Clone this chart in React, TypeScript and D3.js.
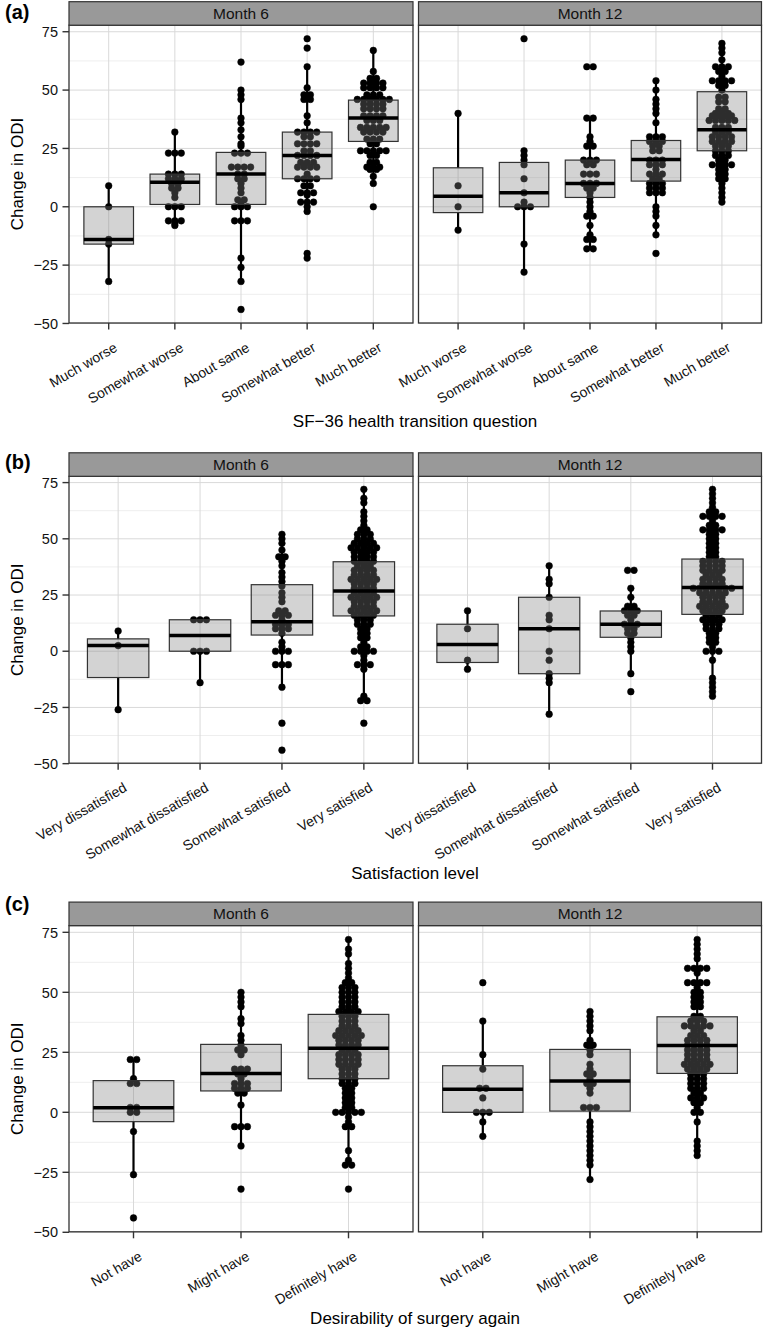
import React from "react";
import * as d3 from "d3";

// facet strips
const facetNames = ["Month 6", "Month 12"];

// categories of each question
const transitionCats = ["Much worse", "Somewhat worse", "About same", "Somewhat better", "Much better"];
const satisfactionCats = ["Very dissatisfied", "Somewhat dissatisfied", "Somewhat satisfied", "Very satisfied"];
const surgeryCats = ["Not have", "Might have", "Definitely have"];

const yTicks = [-50, -25, 0, 25, 50, 75];
const yMinor = [-37.5, -12.5, 12.5, 37.5, 62.5];

// box stats: [lower whisker, q1, median, q3, upper whisker]
const transitionBoxesM6 = [
  [-32, -16, -14, 0, 9],
  [-8, 1, 10.5, 14, 32],
  [-32, 1, 14, 23.3, 50],
  [-2, 12, 22, 32, 60],
  [10, 28, 38, 45.7, 67],
];
const transitionBoxesM12 = [
  [-10, -2.5, 4.5, 16.7, 40],
  [-28, 0, 6, 19, 24],
  [-18, 4, 10, 20, 38],
  [-12, 11, 20.3, 28.4, 54],
  [2, 24, 33, 49.3, 70],
];
const satisfactionBoxesM6 = [
  [-26, -11.7, 2.5, 5.5, 9],
  [-14, 0, 7, 14, 14],
  [-16, 7.2, 13.1, 29.6, 52],
  [-22, 15.7, 26.8, 39.8, 72],
];
const satisfactionBoxesM12 = [
  [-8, -5, 3, 12, 18],
  [-28, -10, 10, 24, 38],
  [-10, 6.2, 12, 17.9, 28],
  [-20, 16.4, 28.3, 41, 72],
];
const surgeryBoxesM6 = [
  [-26, -3.9, 1.9, 13.2, 22],
  [-14, 8.9, 16.2, 28.3, 50],
  [-22, 14, 26.7, 40.8, 72],
];
const surgeryBoxesM12 = [
  [-10, 0, 9.6, 19.4, 38],
  [-28, 0.5, 13, 26.2, 42],
  [-18, 16.2, 27.8, 39.8, 72],
];

// dots: [change in ODI, number of patients at that value]
const transitionDotsM6 = [
  [[9, 1], [0, 1], [-14, 1], [-16, 1], [-32, 1]],
  [[32, 1], [23, 3], [14, 3], [12, 3], [10, 2], [8, 2], [6, 1], [4, 1], [0, 3], [-6, 3], [-7, 1], [-8, 1]],
  [[62, 1], [50, 1], [48, 1], [46, 1], [38, 1], [36, 1], [33, 1], [30, 1], [27, 1], [26, 1], [23, 3], [17, 4], [14, 2], [12, 2], [10, 1], [8, 1], [6, 1], [3, 2], [1, 1], [0, 3], [-6, 3], [-22, 1], [-26, 1], [-32, 1], [-44, 1]],
  [[72, 1], [68, 1], [60, 1], [51, 1], [48, 2], [46, 2], [39, 1], [36, 1], [32, 4], [30, 2], [27, 4], [24, 2], [22, 4], [19, 3], [17, 4], [14, 1], [12, 4], [9, 2], [6, 3], [5, 1], [2, 3], [0, 1], [-2, 1], [-20, 1], [-22, 1]],
  [[67, 1], [58, 1], [55, 2], [53, 4], [51, 4], [48, 3], [46, 6], [44, 4], [42, 4], [39, 4], [37, 3], [34, 5], [32, 4], [29, 3], [27, 2], [24, 5], [22, 2], [19, 2], [17, 3], [16, 2], [13, 1], [10, 1], [0, 1]],
];
const transitionDotsM12 = [
  [[40, 1], [9, 1], [0, 1], [-10, 1]],
  [[72, 1], [24, 1], [22, 1], [20, 1], [18, 1], [12, 1], [6, 1], [2, 1], [0, 3], [-16, 1], [-28, 1]],
  [[60, 2], [38, 2], [30, 1], [28, 1], [26, 2], [20, 3], [18, 2], [14, 3], [10, 3], [8, 2], [6, 1], [4, 1], [2, 1], [0, 1], [-2, 1], [-4, 2], [-8, 1], [-12, 1], [-14, 2], [-18, 2]],
  [[54, 1], [50, 1], [46, 1], [44, 1], [42, 1], [40, 1], [36, 1], [30, 3], [28, 3], [26, 2], [24, 2], [20, 3], [18, 3], [16, 1], [14, 3], [12, 2], [10, 3], [8, 3], [6, 3], [0, 1], [-2, 1], [-4, 1], [-8, 1], [-12, 1], [-20, 1]],
  [[70, 1], [68, 1], [66, 1], [63, 1], [60, 3], [58, 2], [56, 1], [54, 4], [52, 2], [50, 1], [47, 2], [45, 2], [42, 2], [40, 3], [39, 4], [37, 5], [34, 3], [32, 3], [30, 4], [28, 4], [26, 3], [24, 3], [22, 3], [20, 2], [18, 4], [16, 2], [14, 2], [12, 2], [10, 1], [8, 1], [6, 1], [4, 1], [2, 1]],
];
const satisfactionDotsM6 = [
  [[9, 1], [2.5, 1], [-26, 1]],
  [[14, 3], [0, 3], [-14, 1]],
  [[52, 1], [50, 1], [48, 1], [45, 1], [42, 2], [40, 1], [38, 1], [35, 1], [33, 1], [31, 1], [29, 1], [26, 1], [24, 1], [22, 1], [18, 2], [16, 3], [14, 1], [12, 3], [10, 3], [8, 1], [4, 1], [2, 1], [0, 3], [-6, 3], [-16, 1], [-32, 1], [-44, 1]],
  [[72, 1], [68, 1], [66, 1], [62, 1], [60, 1], [58, 1], [56, 1], [54, 2], [52, 3], [50, 3], [48, 4], [46, 5], [44, 4], [42, 4], [40, 4], [38, 3], [36, 4], [34, 4], [32, 5], [30, 4], [28, 4], [26, 4], [24, 5], [22, 4], [20, 4], [18, 5], [16, 4], [14, 3], [12, 3], [10, 2], [8, 2], [6, 2], [4, 1], [2, 2], [0, 4], [-2, 1], [-4, 1], [-6, 3], [-8, 1], [-20, 1], [-22, 2], [-32, 1]],
];
const satisfactionDotsM12 = [
  [[18, 1], [10, 1], [-4, 1], [-8, 1]],
  [[38, 1], [32, 1], [30, 1], [24, 1], [16, 1], [14, 1], [10, 1], [0, 1], [-4, 1], [-10, 1], [-12, 1], [-14, 1], [-28, 1]],
  [[36, 2], [28, 1], [24, 1], [20, 2], [18, 3], [16, 2], [14, 1], [12, 3], [10, 2], [8, 2], [6, 1], [4, 1], [2, 1], [0, 1], [-10, 1], [-18, 1]],
  [[72, 1], [70, 1], [68, 1], [66, 1], [64, 1], [62, 2], [60, 4], [58, 1], [56, 2], [54, 4], [52, 2], [50, 2], [48, 2], [46, 2], [44, 2], [42, 2], [40, 4], [38, 4], [36, 4], [34, 3], [32, 4], [30, 4], [28, 7], [26, 5], [24, 4], [22, 4], [20, 5], [18, 4], [16, 3], [14, 4], [12, 3], [10, 3], [8, 2], [6, 2], [4, 2], [2, 1], [0, 3], [-4, 1], [-12, 1], [-14, 1], [-16, 1], [-18, 1], [-20, 1]],
];
const surgeryDotsM6 = [
  [[22, 2], [14, 1], [12, 2], [2, 2], [0, 2], [-8, 1], [-26, 1], [-44, 1]],
  [[50, 1], [48, 1], [46, 1], [44, 1], [39, 1], [37, 1], [32, 1], [30, 1], [28, 1], [26, 2], [24, 1], [18, 3], [16, 2], [14, 1], [12, 3], [10, 3], [8, 2], [3, 1], [-6, 3], [-14, 1], [-32, 1]],
  [[72, 1], [68, 1], [66, 1], [62, 1], [60, 1], [58, 1], [56, 1], [54, 2], [52, 3], [50, 3], [48, 3], [46, 3], [44, 3], [42, 4], [40, 3], [38, 3], [36, 3], [34, 4], [32, 5], [30, 4], [28, 4], [26, 3], [24, 4], [22, 4], [20, 4], [18, 3], [16, 3], [14, 3], [12, 3], [10, 2], [8, 2], [6, 2], [4, 2], [2, 2], [0, 5], [-2, 1], [-4, 1], [-6, 2], [-16, 1], [-20, 1], [-22, 2], [-32, 1]],
];
const surgeryDotsM12 = [
  [[54, 1], [38, 1], [24, 1], [18, 1], [10, 2], [6, 1], [0, 3], [-4, 1], [-10, 1]],
  [[42, 1], [40, 1], [38, 1], [36, 1], [34, 1], [30, 1], [28, 2], [26, 1], [24, 1], [20, 1], [18, 1], [16, 2], [14, 1], [12, 2], [10, 1], [8, 1], [2, 3], [-4, 1], [-6, 1], [-8, 1], [-10, 1], [-12, 1], [-14, 1], [-16, 1], [-18, 1], [-20, 1], [-22, 1], [-28, 1]],
  [[72, 1], [70, 1], [68, 1], [66, 1], [64, 1], [60, 4], [58, 1], [54, 4], [52, 1], [50, 2], [48, 2], [46, 2], [44, 2], [40, 2], [38, 3], [36, 5], [34, 2], [32, 3], [30, 4], [28, 4], [26, 4], [24, 4], [22, 4], [20, 5], [18, 4], [16, 3], [14, 3], [12, 3], [10, 3], [8, 2], [6, 3], [4, 2], [2, 1], [0, 2], [-4, 1], [-12, 1], [-14, 1], [-16, 1], [-18, 1]],
];

const FONT = "Liberation Sans, Arial, Helvetica, sans-serif";
const facetX = [
  [69, 413],
  [418.5, 761.5],
];
const rows = [
  { tagY: 19, top: 25.2, bottom: 323, titleY: 427 },
  { tagY: 469, top: 476.3, bottom: 763.2, titleY: 879 },
  { tagY: 911, top: 925.6, bottom: 1231.8, titleY: 1324 },
];
const fmt = (v: number) => (v < 0 ? "\u2212" + Math.abs(v) : String(v));

function Facet({ x0, x1, top, bottom, cats, boxes, dots, name, first }: any) {
  const x = d3.scalePoint<string>().domain(cats).range([x0, x1]).padding(0.6);
  const y = d3.scaleLinear().domain([-49.8, 77.8]).range([bottom, top]);
  const bw = x.step() * 0.75;
  const gap = 6.4;
  const r = 3.35;

  return (
    <g>
      <rect x={x0} y={top} width={x1 - x0} height={bottom - top} fill="#fff" />
      {yMinor.map((v) => (
        <line key={"mi" + v} x1={x0} x2={x1} y1={y(v)} y2={y(v)} stroke="#eeeeee" strokeWidth={1} />
      ))}
      {yTicks.map((v) => (
        <line key={"ma" + v} x1={x0} x2={x1} y1={y(v)} y2={y(v)} stroke="#d9d9d9" strokeWidth={1} />
      ))}
      {cats.map((c: string) => (
        <line key={"v" + c} x1={x(c)} x2={x(c)} y1={top} y2={bottom} stroke="#d9d9d9" strokeWidth={1} />
      ))}

      {/* dots */}
      {cats.map((c: string, i: number) =>
        dots[i].flatMap(([v, n]: number[]) =>
          d3.range(n).map((j) => (
            <circle
              key={c + v + "-" + j}
              cx={(x(c) as number) + (j - (n - 1) / 2) * gap}
              cy={y(v)}
              r={r}
              fill="#000"
              stroke="#000"
              strokeWidth={0.5}
            />
          ))
        )
      )}

      {/* boxes */}
      {cats.map((c: string, i: number) => {
        const [lo, q1, med, q3, hi] = boxes[i];
        const cx = x(c) as number;
        return (
          <g key={"b" + c}>
            <line x1={cx} x2={cx} y1={y(q3)} y2={y(hi)} stroke="#000" strokeWidth={2.2} />
            <line x1={cx} x2={cx} y1={y(q1)} y2={y(lo)} stroke="#000" strokeWidth={2.2} />
            <rect
              x={cx - bw / 2}
              y={y(q3)}
              width={bw}
              height={y(q1) - y(q3)}
              fill="#808080"
              fillOpacity={0.35}
              stroke="#333"
              strokeWidth={1.2}
            />
            <line x1={cx - bw / 2} x2={cx + bw / 2} y1={y(med)} y2={y(med)} stroke="#000" strokeWidth={3.5} />
          </g>
        );
      })}

      <rect x={x0} y={top} width={x1 - x0} height={bottom - top} fill="none" stroke="#333" strokeWidth={1.3} />
      <rect x={x0} y={top - 23.5} width={x1 - x0} height={23.5} fill="#999" stroke="#333" strokeWidth={1.2} />
      <text x={(x0 + x1) / 2} y={top - 11.75} dy="0.36em" textAnchor="middle" fontSize={15.5} fill="#111">
        {name}
      </text>

      {/* x axis */}
      {cats.map((c: string) => (
        <g key={"xt" + c}>
          <line x1={x(c)} x2={x(c)} y1={bottom} y2={bottom + 6.5} stroke="#333" strokeWidth={1.4} />
          <text
            transform={`translate(${(x(c) as number) + 4.5},${bottom + 18.5}) rotate(-30)`}
            textAnchor="end"
            dy="0.72em"
            fontSize={14}
            fill="#111"
          >
            {c}
          </text>
        </g>
      ))}

      {/* y axis */}
      {first &&
        yTicks.map((v) => (
          <g key={"yt" + v}>
            <line x1={x0 - 6.5} x2={x0} y1={y(v)} y2={y(v)} stroke="#333" strokeWidth={1.4} />
            <text x={x0 - 11} y={y(v)} dy="0.36em" textAnchor="end" fontSize={14.5} fill="#111">
              {fmt(v)}
            </text>
          </g>
        ))}
    </g>
  );
}

export default function App() {
  const groups = [
    {
      tag: "(a)",
      title: "SF\u221236 health transition question",
      cats: transitionCats,
      boxes: [transitionBoxesM6, transitionBoxesM12],
      dots: [transitionDotsM6, transitionDotsM12],
    },
    {
      tag: "(b)",
      title: "Satisfaction level",
      cats: satisfactionCats,
      boxes: [satisfactionBoxesM6, satisfactionBoxesM12],
      dots: [satisfactionDotsM6, satisfactionDotsM12],
    },
    {
      tag: "(c)",
      title: "Desirability of surgery again",
      cats: surgeryCats,
      boxes: [surgeryBoxesM6, surgeryBoxesM12],
      dots: [surgeryDotsM6, surgeryDotsM12],
    },
  ];

  return (
    <svg
      width={763}
      height={1328}
      style={{ position: "absolute", left: 0, top: 0, display: "block" }}
      fontFamily={FONT}
    >
      <rect width={763} height={1328} fill="#fff" />
      {groups.map((g, gi) => {
        const L = rows[gi];
        return (
          <g key={g.tag}>
            {facetNames.map((name, fi) => (
              <Facet
                key={name}
                x0={facetX[fi][0]}
                x1={facetX[fi][1]}
                top={L.top}
                bottom={L.bottom}
                cats={g.cats}
                boxes={g.boxes[fi]}
                dots={g.dots[fi]}
                name={name}
                first={fi === 0}
              />
            ))}
            <text x={5} y={L.tagY} fontWeight="bold" fontSize={20} fill="#000">
              {g.tag}
            </text>
            <text
              transform={`translate(23,${(L.top + L.bottom) / 2}) rotate(-90)`}
              textAnchor="middle"
              fontSize={17}
              fill="#000"
            >
              Change in ODI
            </text>
            <text x={415} y={L.titleY} textAnchor="middle" fontSize={17} fill="#000">
              {g.title}
            </text>
          </g>
        );
      })}
    </svg>
  );
}
